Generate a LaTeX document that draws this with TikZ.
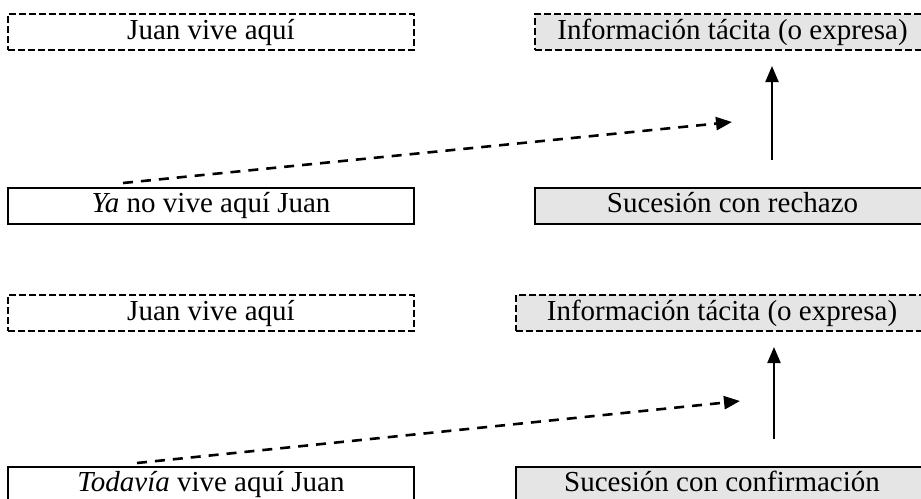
\documentclass[tikz,border=0pt]{standalone}
\usepackage{fontspec}
\setmainfont{Liberation Serif}
\usetikzlibrary{arrows.meta}

\tikzset{
  caja/.style={draw, line width=2pt, inner sep=0pt, minimum height=36pt,
               text height=20pt, text depth=6pt},
  tacita/.style={caja, dash pattern=on 7pt off 3pt},
  gris/.style={fill=gray!20},
  flecha/.style={line width=2.2pt, -{Triangle[length=16pt,width=13pt]}},
  rayada/.style={flecha, line width=2.6pt, dash pattern=on 10pt off 8pt},
}

\begin{document}
\begin{tikzpicture}[x=1pt,y=-1pt]
    \useasboundingbox (0,0) rectangle (921,498);
    \clip (0,0) rectangle (921,498);
    \fontsize{29}{34}\selectfont

    % ya
    \node[tacita, minimum width=406pt]       (J1) at (211,32)    {Juan vive aquí};
    \node[tacita, gris, minimum width=395pt] (I1) at (732.5,32)  {Información tácita (o expresa)};
    \node[caja, minimum width=406pt]         (Y1) at (211,205.5) {\textit{Ya} no vive aquí Juan};
    \node[caja, gris, minimum width=395pt]   (S1) at (732.5,205.5) {Sucesión con rechazo};

    \coordinate (P1) at (123,183);
    \coordinate (Q1) at (732,122);
    \coordinate (U1) at (772,160);
    \coordinate (V1) at (772,66);
    \draw[rayada] (P1) -- (Q1);
    \draw[flecha] (U1) -- (V1);

    % todavia
    \node[tacita, minimum width=406pt]       (J2) at (211,313)   {Juan vive aquí};
    \node[tacita, gris, minimum width=412pt] (I2) at (722,313)   {Información tácita (o expresa)};
    \node[caja, minimum width=406pt]         (T2) at (211,484.5) {\textit{Todavía} vive aquí Juan};
    \node[caja, gris, minimum width=412pt]   (S2) at (722,484.5) {Sucesión con confirmación};

    \coordinate (P2) at (137,463);
    \coordinate (Q2) at (740,401);
    \coordinate (U2) at (774,439);
    \coordinate (V2) at (774,347);
    \draw[rayada] (P2) -- (Q2);
    \draw[flecha] (U2) -- (V2);
\end{tikzpicture}
\end{document}
